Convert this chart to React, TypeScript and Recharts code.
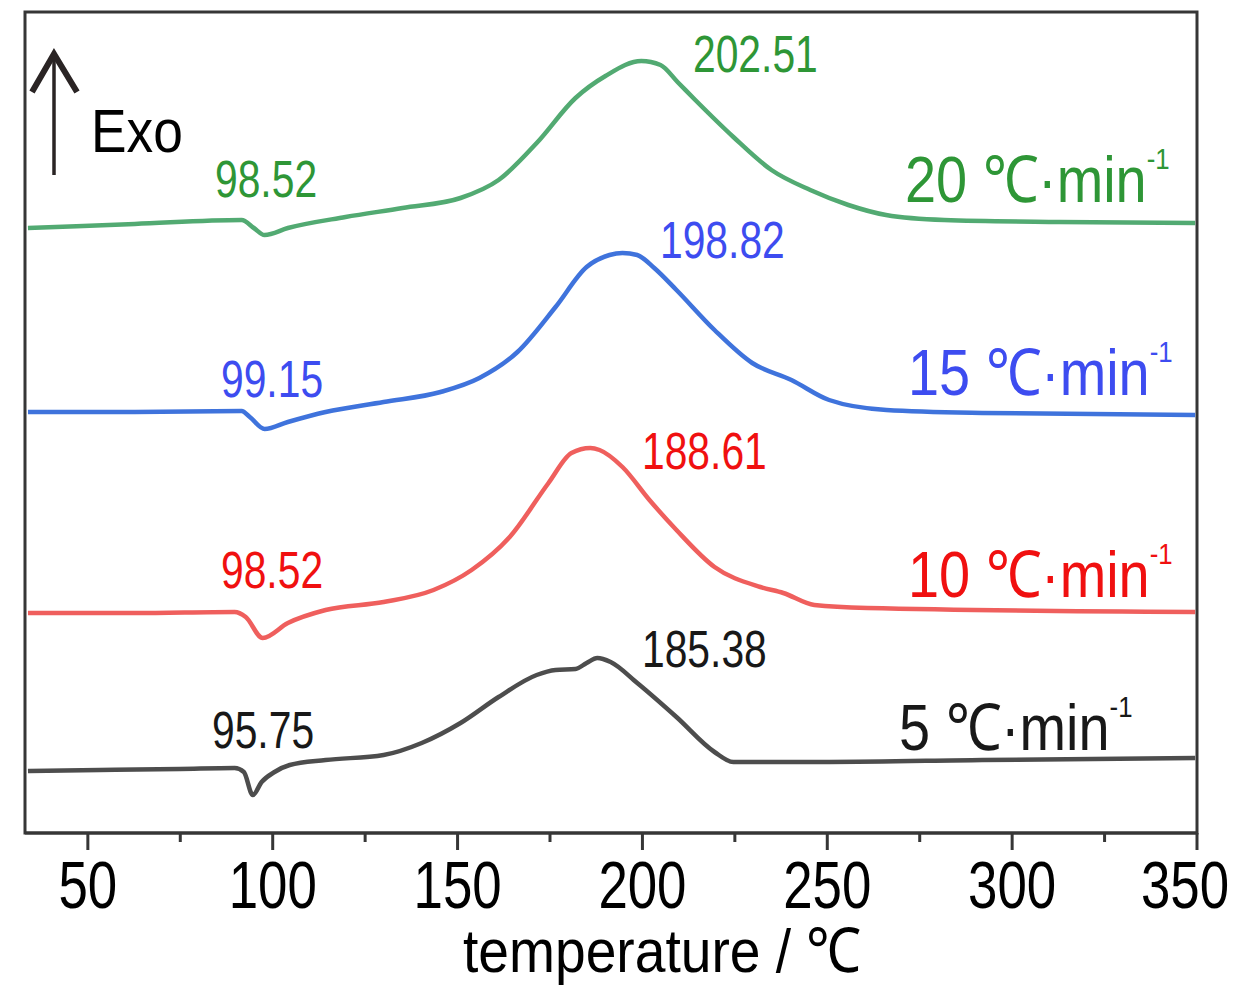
import React from 'react';
import { LineChart, Line, XAxis, YAxis, ReferenceArea } from 'recharts';

// temperature (°C) and heat flow (a.u.)
const temp5 = [33.8, 53.2, 74.9, 89.7, 92.2, 94.6, 97, 100.5, 104.6, 114.3, 130, 140.3, 150.8, 161.1, 171.4, 176.5, 181.9, 184.9, 187.8, 191.4, 198.6, 209.2, 219.5, 224.6, 250.5, 291.9, 349.5];
const flow5 = [6.2, 6.3, 6.4, 6.5, 6.1, 3.8, 5.1, 6.1, 6.8, 7.3, 7.8, 9.0, 11.0, 13.6, 15.8, 16.3, 16.4, 17.0, 17.5, 17.1, 15.0, 11.6, 8.1, 7.1, 7.1, 7.3, 7.5];

const temp10 = [33.8, 62.7, 89.7, 92.7, 97.3, 104.1, 114.3, 130, 143.5, 153.8, 164.1, 174.6, 180.8, 185.9, 188.4, 194.6, 201.9, 209.2, 219.5, 231.9, 238.1, 246.5, 260.8, 349.5];
const flow10 = [22.0, 22.0, 22.1, 21.6, 19.5, 21.0, 22.3, 23.1, 24.3, 26.3, 29.6, 35.0, 38.0, 38.5, 38.3, 36.6, 33.3, 30.3, 26.6, 24.6, 24.0, 22.8, 22.5, 22.1];

const temp15 = [33.8, 62.7, 91.6, 93.8, 97.8, 104.1, 114.3, 130, 145.4, 155.9, 166.2, 176.5, 184.9, 191.1, 194.6, 198.6, 203.2, 209.2, 219.5, 229.7, 240.3, 250.5, 266, 291.9, 349.5];
const flow15 = [42.1, 42.1, 42.2, 41.6, 40.4, 41.1, 42.1, 43.1, 44.1, 45.5, 48.1, 52.6, 56.6, 57.8, 58.0, 57.8, 56.5, 54.3, 50.3, 47.0, 45.3, 43.3, 42.3, 42.0, 41.8];

const temp20 = [33.8, 62.7, 91.6, 94.9, 97.8, 104.1, 119.7, 135.1, 150.8, 161.1, 171.4, 181.9, 190, 199.7, 204.9, 209.5, 214.3, 224.6, 234.9, 245.4, 255.7, 265.9, 281.6, 312.7, 349.5];
const flow20 = [60.5, 60.9, 61.3, 60.5, 59.8, 60.5, 61.6, 62.5, 63.5, 65.3, 69.0, 73.5, 75.7, 77.2, 76.8, 75.1, 73.3, 69.6, 66.3, 64.3, 62.8, 61.8, 61.3, 61.1, 61.0];

const tempTicks = [50, 75, 100, 125, 150, 175, 200, 225, 250, 275, 300, 325, 350];

const rates = ['20', '15', '10', '5'];
const peakLabels = ['202.51', '198.82', '188.61', '185.38'];
const meltLabels = ['98.52', '99.15', '98.52', '95.75'];

const toRows = (t: number[], f: number[]) => t.map((x, i) => ({ temp: x, flow: f[i] }));

const FONT = "'Liberation Sans', Arial, sans-serif";
const AXIS = '#363636';

const series = [
  { data: toRows(temp20, flow20), line: '#52aa72', text: '#2e9636' },
  { data: toRows(temp15, flow15), line: '#3f73dc', text: '#3d4cf0' },
  { data: toRows(temp10, flow10), line: '#ef5f5d', text: '#f01010' },
  { data: toRows(temp5, flow5), line: '#4d4d4d', text: '#181818' },
];

// label placement in svg pixels: [peak x, peak y, melt x, melt y, rate x, rate y]
const labelPos = [
  [685, 64, 207, 189, 897, 194],
  [652, 250, 213, 389, 900, 387],
  [634, 461, 213, 580, 900, 589],
  [634, 659, 204, 740, 891, 742],
];

// condensed text: the source uses a narrow grotesque
const Narrow = ({ x, y, size, fill, sx = 0.82, anchor = 'start', children }: any) => (
  <text
    transform={`translate(${x},${y}) scale(${sx},1)`}
    textAnchor={anchor}
    fontFamily={FONT}
    fontSize={size}
    fill={fill}
  >
    {children}
  </text>
);

const TempTick = (props: any) => {
  const { x, y, payload } = props;
  const major = payload.value % 50 === 0;
  const last = payload.value === 350;
  return (
    <g>
      <line x1={x} x2={x} y1={y} y2={y + (major ? 17 : 9)} stroke={AXIS} strokeWidth={3} />
      {major && (
        <Narrow x={last ? x + 32 : x} y={y + 75} size={66} sx={0.8} fill="#000" anchor={last ? 'end' : 'middle'}>
          {payload.value}
        </Narrow>
      )}
    </g>
  );
};

export default function App() {
  return (
    <LineChart width={1229} height={978} margin={{ top: 4, right: 40, bottom: 0, left: 17 }}>
      <XAxis
        dataKey="temp"
        type="number"
        domain={[33, 350]}
        allowDataOverflow
        ticks={tempTicks}
        interval={0}
        height={153}
        tickSize={0}
        tickMargin={0}
        tickLine={false}
        tick={<TempTick />}
        axisLine={{ stroke: AXIS, strokeWidth: 3 }}
      />
      <YAxis dataKey="flow" type="number" domain={[0, 82.1]} hide />
      <ReferenceArea x1={33} x2={350} y1={0} y2={82.1} fill="none" stroke={AXIS} strokeWidth={3} fillOpacity={0} />

      {series.map((s, i) => (
        <Line
          key={rates[i]}
          data={s.data}
          dataKey="flow"
          type="monotone"
          stroke={s.line}
          strokeWidth={4.5}
          dot={false}
          activeDot={false}
          isAnimationActive={false}
        />
      ))}

      {series.map((s, i) => {
        const p = labelPos[i];
        return (
          <g key={'lab' + i}>
            <Narrow x={p[0]} y={p[1]} size={51} sx={0.8} fill={s.text}>{peakLabels[i]}</Narrow>
            <Narrow x={p[2]} y={p[3]} size={51} sx={0.8} fill={s.text}>{meltLabels[i]}</Narrow>
            <Narrow x={p[4]} y={p[5]} size={65} sx={0.86} fill={s.text}>
              {rates[i]} ℃·min
              <tspan fontSize={30} dy={-33}>-1</tspan>
            </Narrow>
          </g>
        );
      })}

      <g stroke="#2a2424" fill="none">
        <line x1={46} y1={167} x2={46} y2={47} strokeWidth={3.5} />
        <polyline points="24,84 46,46 69,84" strokeWidth={6} />
      </g>
      <Narrow x={83} y={144} size={62} sx={0.86} fill="#000">Exo</Narrow>
      <Narrow x={654} y={964} size={62} sx={0.89} fill="#000" anchor="middle">temperature / ℃</Narrow>
    </LineChart>
  );
}
